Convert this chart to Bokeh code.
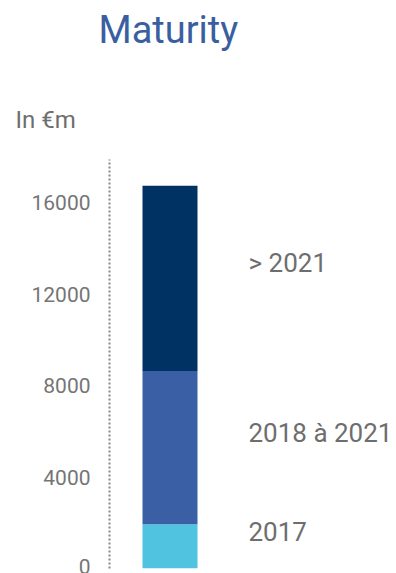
from bokeh.plotting import figure
from bokeh.models import Range1d, FixedTicker, Title, ColumnDataSource
from bokeh.embed import file_html
from bokeh.resources import INLINE
from bokeh.core.properties import value
import numpy as np

# Data
segments = ["2017", "2018 à 2021", "> 2021"]
amounts = [1940, 6700, 8110]
colors = ["#4fc3e0", "#3a5fa5", "#003263"]
y_ticks = [0, 4000, 8000, 12000, 16000]
title_text = "Maturity"
unit_text = "In €m"

tops = np.cumsum(amounts)
bottoms = tops - np.array(amounts)
mids = (tops + bottoms) / 2

src = ColumnDataSource(dict(
    x=[0] * len(segments), bottom=bottoms, top=tops, color=colors,
    label=segments, mid=mids,
))

p = figure(width=396, height=573, output_backend="svg", toolbar_location=None,
           x_range=Range1d(-1.1, 4.118), y_range=Range1d(0, 17900),
           min_border_left=109, min_border_right=0, min_border_top=159,
           min_border_bottom=5, title=None)
p.outline_line_color = None
p.xgrid.visible = False
p.ygrid.visible = False
p.xaxis.visible = False
p.background_fill_color = "white"
p.border_fill_color = "white"

p.vbar(x="x", width=1, bottom="bottom", top="top", fill_color="color",
       line_color=None, source=src)

p.text(x="x", y="mid", text="label", source=src, x_offset=78.5, y_offset=-15,
       text_font=value("Roboto"), text_font_size="26px", text_color="#6e6e6e",
       text_baseline="middle", text_align="left")

ax = p.yaxis[0]
ax.ticker = FixedTicker(ticks=y_ticks)
ax.bounds = (0, 17900)
ax.axis_line_color = "#888888"
ax.axis_line_width = 2
ax.axis_line_dash = "2 2"
ax.major_tick_out = 0
ax.major_tick_in = 0
ax.minor_tick_out = 0
ax.minor_tick_in = 0
ax.major_label_standoff = 19
ax.major_label_text_font = "Roboto"
ax.major_label_text_font_size = "21px"
ax.major_label_text_color = "#757575"

# unit caption (closest to the frame)
p.add_layout(Title(text=unit_text, align="left", offset=-94,
                   text_font="Roboto", text_font_size="24px",
                   text_font_style="normal", text_color="#6e6e6e",
                   standoff=51), "above")
# spacer
p.add_layout(Title(text=" ", text_font_size="1px", standoff=22), "above")
# main title
p.add_layout(Title(text=title_text, align="left", offset=-11,
                   vertical_align="top",
                   text_font="Roboto", text_font_size="38px",
                   text_font_style="normal", text_color="#3a5fa0",
                   standoff=0), "above")

open("out.html", "w").write(file_html(p, INLINE))
